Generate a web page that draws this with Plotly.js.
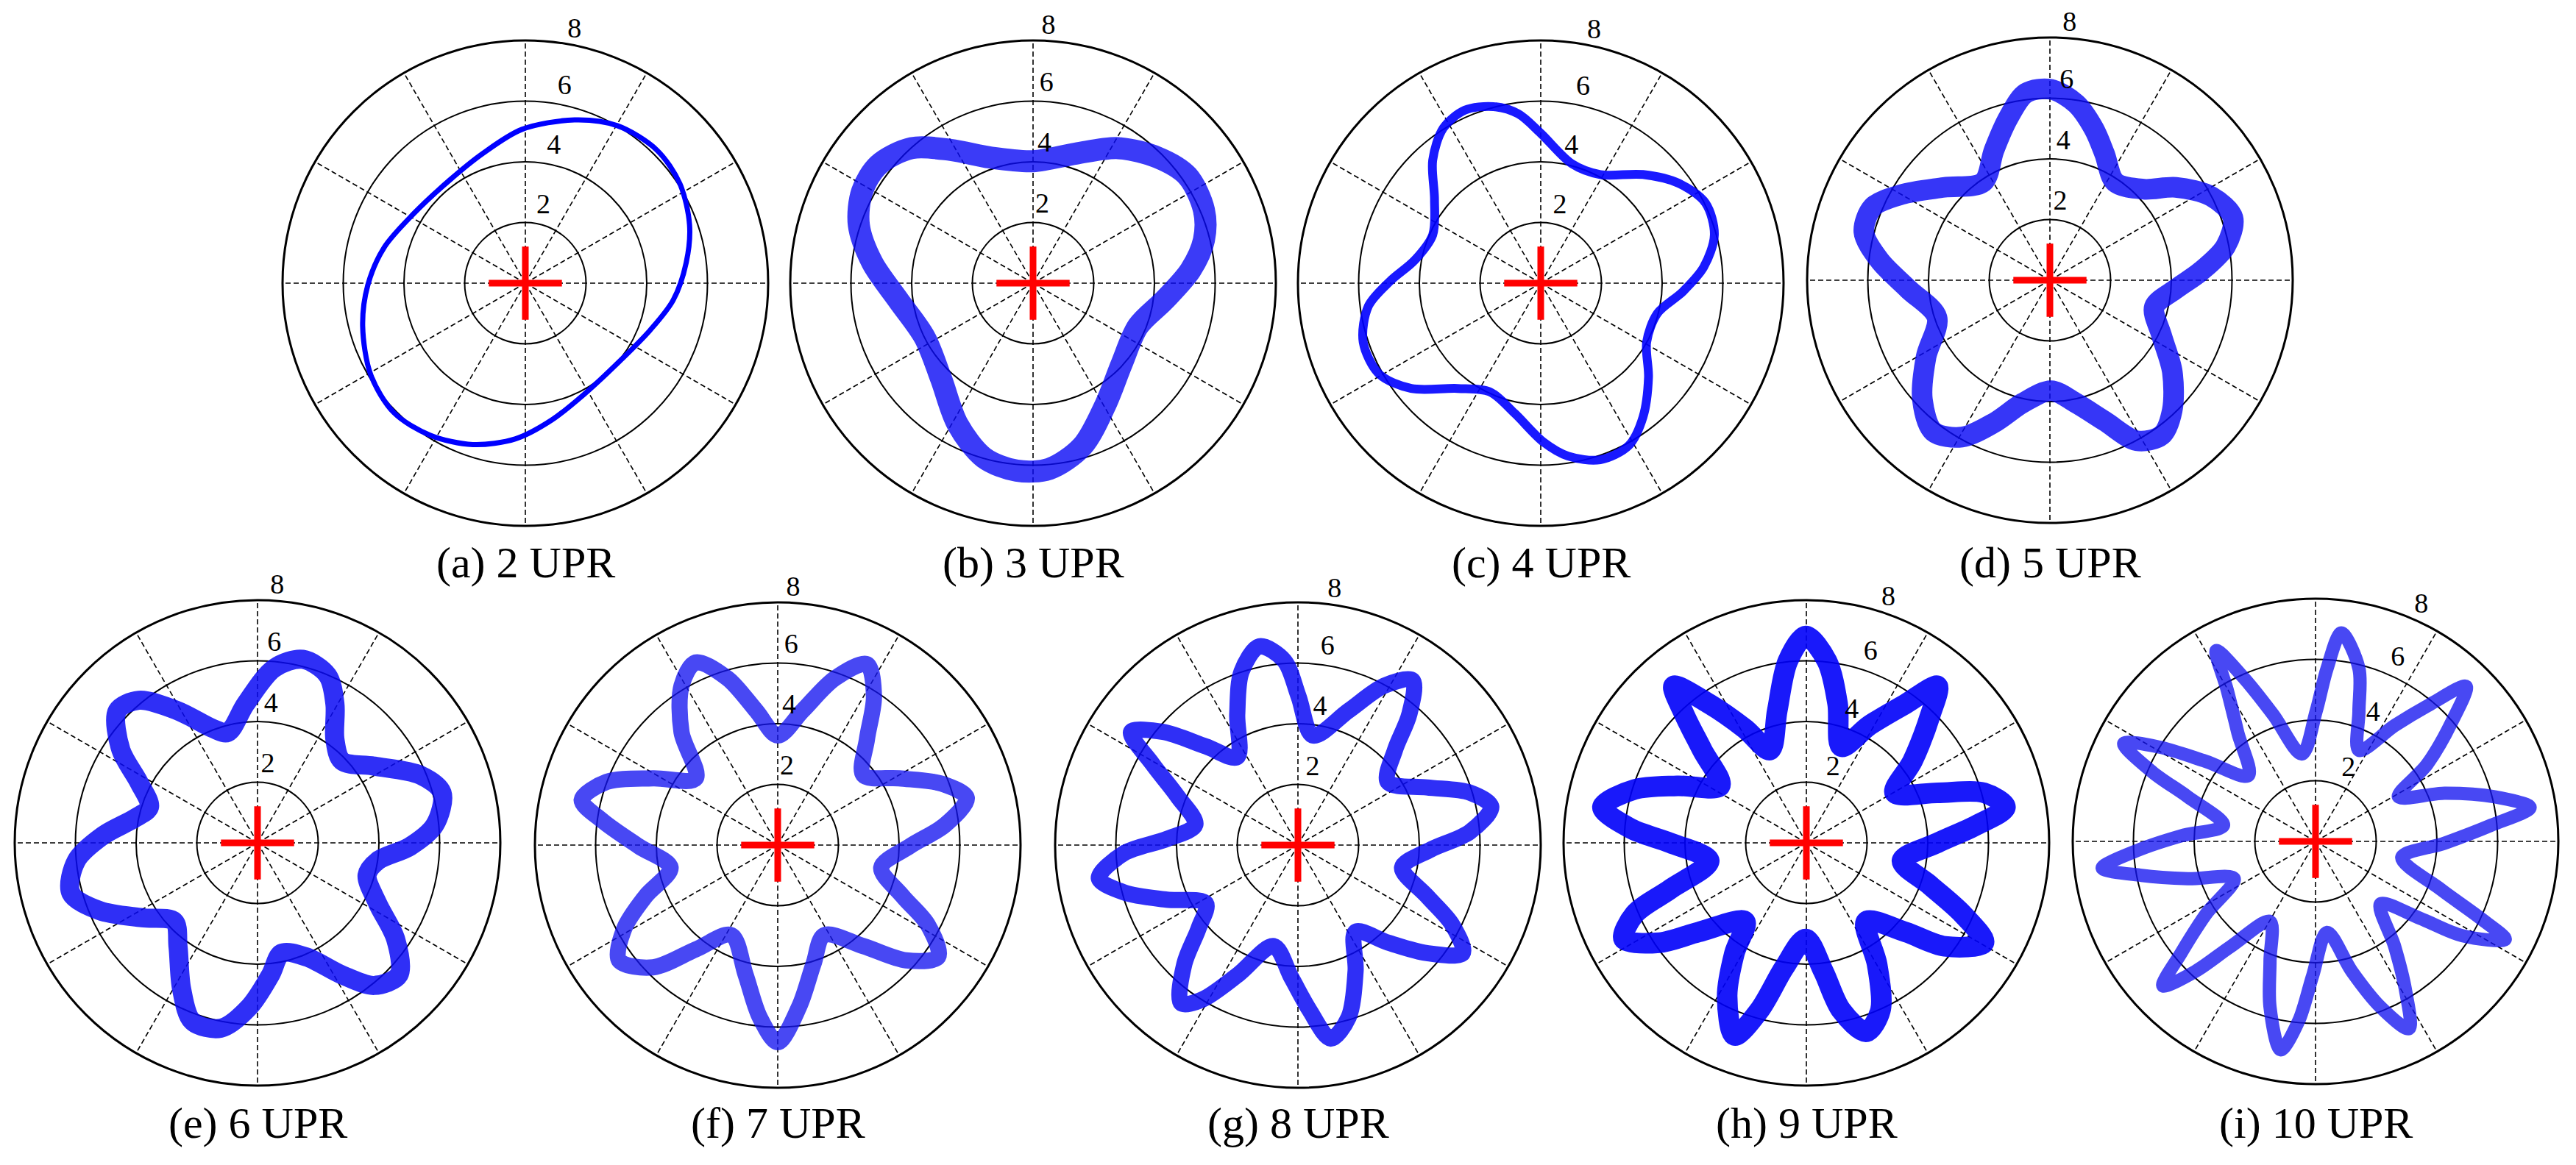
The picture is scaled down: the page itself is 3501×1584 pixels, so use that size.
<!DOCTYPE html>
<html>
<head>
<meta charset="utf-8">
<script src="https://cdn.plot.ly/plotly-3.0.1.min.js"></script>
<style>
html,body{margin:0;padding:0;background:#ffffff;}
#chart{width:3501px;height:1584px;}
</style>
</head>
<body>
<div id="chart"></div>
<script>
// ---------------- data (orbit displacement, x / y) ----------------
const captions = ['(a) 2 UPR','(b) 3 UPR','(c) 4 UPR','(d) 5 UPR','(e) 6 UPR','(f) 7 UPR','(g) 8 UPR','(h) 9 UPR','(i) 10 UPR'];
const radialTicks = [2,4,6,8];
const crossR = [0];
const crossTheta = [0];

const xA = [1.62,3.03,4.33,5.09,5.41,5.30,4.87,4.11,3.14,1.95,0.87,-0.32,-1.73,-3.14,-4.33,-5.09,-5.36,-5.19,-4.65,-3.68,-2.49,-1.41,-0.11];
const yA = [5.38,5.19,4.39,3.28,1.92,0.68,-0.56,-1.55,-2.54,-3.65,-4.51,-5.13,-5.32,-5.01,-4.27,-3.03,-1.42,-0.06,1.18,2.29,3.40,4.27,5.07];

const xB = [0,1.41,2.81,4.11,5.09,5.63,5.63,5.19,4.33,3.46,2.92,2.38,1.62,0.54,-0.54,-1.62,-2.49,-3.03,-3.57,-4.44,-5.30,-5.74,-5.63,-5.09,-4.00,-2.71,-1.41];
const yB = [4.02,4.27,4.45,4.14,3.53,2.41,1.42,0.43,-0.56,-1.42,-2.66,-4.02,-5.38,-6.12,-6.18,-5.75,-4.64,-3.15,-1.79,-0.56,0.68,1.92,3.03,3.90,4.45,4.39,4.14];

const xC = [0,1.02,1.96,3.37,4.55,5.43,5.72,5.37,4.67,3.84,3.49,3.55,3.37,2.90,1.96,0.90,0.08,-0.86,-1.68,-2.74,-4.27,-5.32,-5.85,-5.68,-4.97,-4.15,-3.56,-3.50,-3.56,-3.21,-2.50,-1.56,-0.74];
const yC = [4.94,3.94,3.58,3.58,3.29,2.64,1.59,0.53,-0.29,-1.00,-1.94,-3.11,-4.41,-5.35,-5.82,-5.70,-5.23,-4.29,-3.58,-3.47,-3.47,-3.00,-1.94,-0.76,0.06,0.76,1.59,2.76,4.05,5.11,5.70,5.82,5.58];

const xD = [0.04,0.86,1.45,1.80,2.15,3.09,4.15,5.32,6.03,5.79,4.97,4.15,3.44,3.68,4.03,4.03,3.68,2.86,1.80,0.86,0.04,-0.90,-1.84,-2.90,-3.84,-4.20,-4.08,-3.72,-4.67,-5.61,-6.13,-5.84,-4.90,-3.49,-2.20,-1.84,-1.37,-0.79];
const yD = [6.29,5.82,4.99,4.17,3.23,3.00,3.06,2.76,2.06,1.12,0.29,-0.29,-0.88,-1.82,-3.00,-4.29,-5.11,-5.29,-4.64,-4.05,-3.64,-4.05,-4.70,-5.17,-4.99,-3.94,-2.53,-1.23,-0.29,0.65,1.59,2.41,2.82,3.06,3.23,4.29,5.35,6.17];

const xE = [1.49,2.31,2.55,2.55,2.78,3.84,5.37,6.08,5.84,5.02,3.96,3.61,3.96,4.55,4.66,3.84,2.78,1.61,0.79,0.43,-0.27,-1.21,-2.15,-2.50,-2.62,-2.74,-3.80,-5.21,-6.15,-5.97,-5.09,-4.03,-3.56,-3.91,-4.50,-4.62,-3.91,-2.62,-1.45,-0.98,-0.39,0.55];
const yE = [6.05,5.52,4.58,3.41,2.70,2.53,2.23,1.65,0.59,-0.12,-0.59,-1.06,-2.00,-3.17,-4.35,-4.70,-4.35,-3.76,-3.64,-4.35,-5.41,-6.11,-5.88,-4.82,-3.41,-2.59,-2.47,-2.23,-1.65,-0.59,0.24,0.82,1.18,2.00,3.06,4.35,4.70,4.35,3.76,3.64,4.58,5.76];

const xF = [0,0.82,1.88,2.94,3.17,2.94,2.82,4.00,5.41,6.23,5.52,4.35,3.41,4.11,4.94,5.29,4.23,2.82,1.53,1.18,0.71,0,-0.59,-1.06,-1.53,-2.70,-4.11,-5.23,-5.05,-4.35,-3.53,-4.58,-5.76,-6.46,-5.64,-4.11,-2.70,-3.17,-3.17,-2.70,-1.65,-0.71];
const yF = [3.61,4.43,5.49,5.96,4.90,3.49,2.31,2.20,2.02,1.55,0.67,-0.04,-0.74,-1.68,-2.62,-3.68,-3.80,-3.33,-2.97,-3.91,-5.32,-6.50,-5.68,-4.27,-2.97,-3.44,-4.03,-3.80,-2.74,-1.68,-0.74,-0.04,0.79,1.49,2.08,2.20,2.20,3.72,5.25,6.02,5.49,4.43];

const xG = [-1.27,-0.45,0.02,0.49,1.67,2.84,3.78,3.67,3.20,2.96,4.25,5.66,6.37,5.66,4.37,3.43,4.25,5.08,5.43,4.25,2.96,1.90,1.90,1.67,1.08,0.38,-0.21,-0.80,-1.97,-3.15,-3.85,-3.74,-3.27,-3.03,-4.32,-5.73,-6.56,-5.73,-4.32,-3.38,-3.97,-4.79,-5.50,-4.44,-3.03,-2.00,-2.00,-1.86];
const yG = [6.55,6.08,4.90,3.61,4.43,5.25,5.43,4.31,3.14,2.08,1.90,1.73,1.26,0.43,-0.15,-0.74,-1.68,-2.62,-3.56,-3.56,-3.21,-2.86,-4.15,-5.68,-6.38,-5.44,-4.38,-3.33,-4.27,-5.09,-5.21,-3.91,-2.74,-1.92,-1.80,-1.56,-1.09,-0.27,0.20,0.67,1.61,2.67,3.73,3.73,3.25,2.90,4.31,5.71];

const xH = [-0.02,0.68,1.03,1.15,2.09,3.27,4.32,4.09,3.50,2.91,4.32,5.85,6.56,5.62,4.32,3.15,4.09,5.15,5.85,4.56,3.27,1.97,2.33,2.44,1.97,1.15,0.56,-0.02,-0.73,-1.55,-2.37,-2.61,-2.37,-2.02,-3.55,-4.84,-6.02,-5.66,-4.49,-3.20,-4.49,-5.78,-6.72,-5.66,-4.25,-2.84,-3.43,-4.02,-4.37,-3.20,-2.02,-1.20,-0.96,-0.61];
const yH = [6.82,5.99,4.58,3.17,3.88,4.58,5.17,4.23,2.70,1.65,1.65,1.65,1.18,0.59,0,-0.59,-1.41,-2.35,-3.29,-3.41,-2.94,-2.59,-4.00,-5.52,-6.23,-5.52,-4.23,-3.17,-4.11,-5.52,-6.35,-5.05,-3.64,-2.59,-2.94,-3.29,-3.17,-2.35,-1.53,-0.59,0,0.47,1.18,1.76,1.88,1.88,3.06,4.23,5.17,4.58,3.76,3.06,4.35,5.99];

const xI = [0.85,1.43,1.43,1.43,2.61,3.78,4.96,4.49,3.67,2.73,4.25,5.90,7.07,5.78,4.25,2.84,4.14,5.43,6.25,4.84,3.43,2.14,2.61,2.96,3.08,2.14,1.20,0.38,-0.09,-0.56,-1.15,-1.50,-1.50,-1.50,-2.80,-3.97,-5.03,-4.44,-3.62,-2.68,-4.21,-5.73,-7.03,-5.85,-4.44,-3.03,-4.21,-5.38,-6.32,-5.15,-3.62,-2.21,-2.56,-2.91,-3.27,-2.33,-1.39,-0.45,0.02,0.38];
const yI = [6.87,5.70,4.29,3.00,3.82,4.52,5.11,3.94,2.53,1.47,1.59,1.47,1.12,0.53,-0.06,-0.53,-1.59,-2.53,-3.23,-3.11,-2.53,-2.06,-3.47,-4.88,-6.17,-5.46,-4.29,-3.00,-4.41,-5.93,-6.87,-5.46,-3.94,-2.64,-3.47,-4.29,-4.76,-3.70,-2.41,-1.23,-1.23,-1.12,-0.88,-0.29,0.18,0.53,1.47,2.29,3.23,3.11,2.64,2.17,3.58,4.99,6.29,5.35,4.17,2.88,4.29,5.70];

// ---------------- layout / style (not data) ----------------
const W = 3501, H = 1584, RAD = 330;
const panelCenters = [[714,385],[1404,385],[2094,385],[2786,381],[350,1146],[1057,1149],[1764,1149],[2455,1146],[3147,1144]];
const captionY = [765,765,765,765,1527,1527,1527,1527,1527];
const labelAngle = [80,88,79,87,87,88,83,72,66];
const bandWidth = [7,30,12,28,26,22,22,28,18];
const bandColor = ['#0000ff','rgba(10,10,245,0.8)','rgba(0,0,255,0.9)','rgba(10,10,245,0.82)','rgba(10,10,245,0.85)','rgba(20,20,240,0.78)','rgba(10,10,245,0.85)','rgba(0,0,250,0.9)','rgba(20,20,240,0.78)'];
const orbits = [[xA,yA],[xB,yB],[xC,yC],[xD,yD],[xE,yE],[xF,yF],[xG,yG],[xH,yH],[xI,yI]];
const SERIF = 'Liberation Serif, Times New Roman, Times, serif';

const traces = [];
const layout = {
  width: W, height: H,
  margin: {l:0, r:0, t:0, b:0, pad:0},
  paper_bgcolor: '#ffffff',
  showlegend: false,
  hovermode: false,
  font: {family: SERIF, color: '#000000'},
  annotations: []
};

orbits.forEach(function(xy, i){
  const key = i === 0 ? 'polar' : 'polar' + (i + 1);
  const xs = xy[0], ys = xy[1];
  const n = Math.min(xs.length, ys.length);
  const r = [], th = [];
  for (let k = 0; k <= n; k++) {
    const j = k % n;
    r.push(Math.hypot(xs[j], ys[j]));
    th.push(Math.atan2(ys[j], xs[j]) * 180 / Math.PI);
  }
  traces.push({
    type: 'scatterpolar', subplot: key, mode: 'lines',
    r: r, theta: th,
    line: {color: bandColor[i], width: bandWidth[i], shape: 'spline', smoothing: 0.9},
    hoverinfo: 'skip'
  });
  // red centre cross
  traces.push({
    type: 'scatterpolar', subplot: key, mode: 'markers',
    r: crossR, theta: crossTheta,
    marker: {symbol: 'cross-thin', size: 71, color: '#ff0000', line: {color: '#ff0000', width: 9}},
    cliponaxis: false, hoverinfo: 'skip'
  });
  // radial tick labels (anchored on the rings, written just outside them)
  traces.push({
    type: 'scatterpolar', subplot: key, mode: 'text',
    r: radialTicks.map(function(v){ return Math.min(v + 0.1, 8); }),
    theta: radialTicks.map(function(){ return labelAngle[i]; }),
    text: radialTicks.map(String),
    textposition: 'top right',
    textfont: {family: SERIF, size: 38, color: '#000000'},
    cliponaxis: false, hoverinfo: 'skip'
  });

  const cx = panelCenters[i][0], cy = panelCenters[i][1];
  layout[key] = {
    domain: {x: [(cx - RAD) / W, (cx + RAD) / W], y: [1 - (cy + RAD) / H, 1 - (cy - RAD) / H]},
    bgcolor: '#ffffff',
    radialaxis: {
      range: [0, 8], tickvals: radialTicks, showticklabels: false, ticks: '',
      showline: false, showgrid: true, gridcolor: '#000000', gridwidth: 2
    },
    angularaxis: {
      rotation: 0, direction: 'counterclockwise', dtick: 30, tick0: 0,
      showticklabels: false, ticks: '',
      showline: true, linecolor: '#000000', linewidth: 3,
      showgrid: true, gridcolor: '#000000', gridwidth: 1.6, griddash: '7px,4px'
    }
  };
  layout.annotations.push({
    xref: 'paper', yref: 'paper', x: cx / W, y: 1 - captionY[i] / H,
    xanchor: 'center', yanchor: 'middle', showarrow: false,
    text: captions[i], font: {family: SERIF, size: 60, color: '#000000'}
  });
});

Plotly.newPlot('chart', traces, layout, {displayModeBar: false, staticPlot: true});
</script>
</body>
</html>
